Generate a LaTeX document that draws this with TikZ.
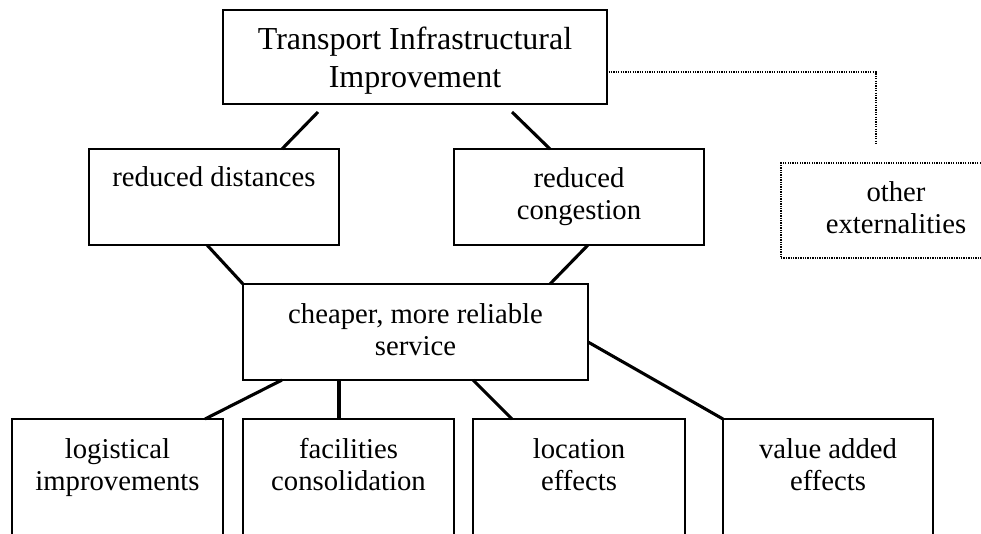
\documentclass[tikz,border=0pt]{standalone}
\usepackage{fontspec}
\setmainfont{Liberation Serif}
\usetikzlibrary{calc}
\begin{document}
\begin{tikzpicture}[x=1pt,y=-1pt,
  box/.style={draw=black,line width=2.9pt,rectangle,inner sep=0pt,outer sep=0pt},
  dbox/.style={draw=black,line width=1.3pt,dash pattern=on 1.3pt off 1.1pt,rectangle,inner sep=0pt,outer sep=0pt},
  conn/.style={draw=black,line width=3.1pt},
  dconn/.style={draw=black,line width=1.3pt,dash pattern=on 1.3pt off 1.1pt},
  txt/.style={anchor=north,align=center,inner sep=0pt,font=\fontsize{28.7}{32.5}\selectfont},
  ttxt/.style={anchor=north,align=center,inner sep=0pt,font=\fontsize{32}{37.5}\selectfont}]
\useasboundingbox (0,0) rectangle (981,533);
\clip (0,0) rectangle (981,533);
% boxes
\node[box,minimum width=384,minimum height=94] (top) at (415,57) {};
\node[box,minimum width=250,minimum height=96] (rd) at (214,197) {};
\node[box,minimum width=250,minimum height=96] (rc) at (579,197) {};
\node[dbox,minimum width=230,minimum height=95] (oe) at (896,210.5) {};
\node[box,minimum width=345,minimum height=96] (ch) at (415.5,332) {};
\node[box,minimum width=211,minimum height=141] (lg) at (117.5,489.5) {};
\node[box,minimum width=211,minimum height=141] (fc) at (348.5,489.5) {};
\node[box,minimum width=212,minimum height=141] (le) at (579,489.5) {};
\node[box,minimum width=210,minimum height=141] (va) at (828,489.5) {};
% texts
\node[ttxt] (ttop) at ([yshift=-17pt]top.north) {Transport Infrastructural\\Improvement};
\node[txt] (trd) at ([yshift=-17pt]rd.north) {reduced distances};
\node[txt] (trc) at ([yshift=-18pt]rc.north) {reduced\\congestion};
\node[txt] (toe) at ([shift={(-115,18)}]oe.north east) {other\\externalities};
\node[txt] (tch) at ([yshift=-19pt]ch.north) {cheaper, more reliable\\service};
\node[txt] (tlg) at ([yshift=-19pt]lg.north) {logistical\\improvements};
\node[txt] (tfc) at ([yshift=-19pt]fc.north) {facilities\\consolidation};
\node[txt] (tle) at ([yshift=-19pt]le.north) {location\\effects};
\node[txt] (tva) at ([yshift=-19pt]va.north) {value added\\effects};
% connectors
\draw[conn] ([shift={(95,8)}]top.south west) -- ([shift={(193,0)}]rd.north west);
\draw[conn] ([shift={(289,8)}]top.south west) -- ([shift={(96,0)}]rc.north west);
\draw[conn] ([shift={(118,0)}]rd.south west) -- (ch.north west);
\draw[conn] ([shift={(134,0)}]rc.south west) -- ([shift={(-38,0)}]ch.north east);
\draw[conn] ([shift={(39,0)}]ch.south west) -- ([shift={(193,0)}]lg.north west);
\draw[conn] ([shift={(96,0)}]ch.south west) -- ([shift={(96,0)}]fc.north west);
\draw[conn] ([shift={(230,0)}]ch.south west) -- ([shift={(39,0)}]le.north west);
\draw[conn] ([shift={(0,58)}]ch.north east) -- (va.north west);
\coordinate (oeend) at ([shift={(95,-20)}]oe.north west);
\draw[dconn] ([shift={(1.5,-32)}]top.south east) -| (oeend);
\end{tikzpicture}
\end{document}
